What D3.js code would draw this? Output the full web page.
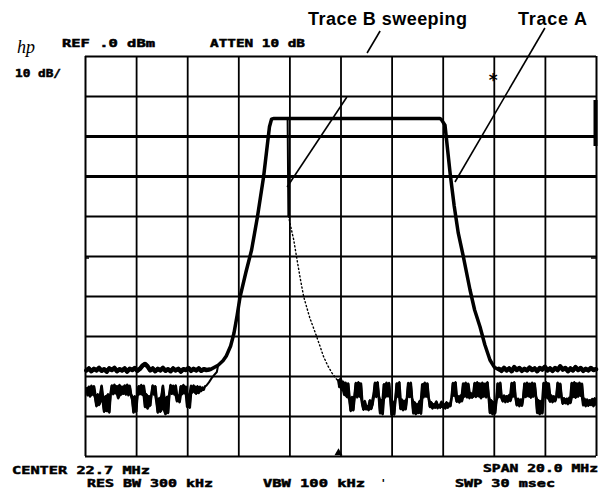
<!DOCTYPE html>
<html><head><meta charset="utf-8">
<script src="https://cdn.jsdelivr.net/npm/d3@7"></script>
<style>html,body{margin:0;padding:0;background:#fff;} svg{display:block;}</style>
</head><body>
<svg id="c" width="616" height="492"></svg>
<script>
// ---- grid / axis definitions (MHz, dBm) ----
const freqGrid = [12.7,14.7,16.7,18.7,20.7,22.7,24.7,26.7,28.7,30.7,32.7];
const dbGrid = [0,-10,-20,-30,-40,-50,-60,-70,-80,-90,-100];

// ---- Trace A (held trace) ----
const aNoiseLStart = 12.75, aNoiseStep = 0.1;
const aNoiseL = [-78.6,-78.1,-78.8,-78.2,-78.6,-78.0,-78.7,-78.3,-78.9,-78.1,
  -78.5,-78.0,-78.8,-78.3,-78.6,-78.1,-78.9,-78.2,-78.5,-78.0,
  -78.7,-78.2,-77.4,-77.0,-77.6,-78.6,-78.1,-78.8,-78.2,-78.6,
  -78.0,-78.7,-78.3,-78.8,-78.1,-78.6,-78.2,-78.9,-78.3,-78.5,
  -78.0,-78.7,-78.2,-78.6,-78.1,-78.7,-78.3,-78.5,-78.4];
const aSkirtFreq = [17.6,17.91,18.1,18.23,18.4,18.53,18.65,18.77,19.0,19.22,19.45,19.69,19.92,20.0,20.1,
  26.59,26.65,26.79,26.99,27.15,27.31,27.51,27.77,27.95,28.16,28.35,28.55,28.72,28.88];
const aSkirtDb = [-78.4,-77.3,-76.2,-75.0,-72.5,-69.3,-65.0,-60.2,-54.0,-48.5,-40.2,-30.2,-17.7,-15.8,-15.6,
  -15.6,-15.9,-17.3,-29.3,-37.5,-44.3,-50.2,-58.5,-63.5,-67.7,-72.2,-76.0,-77.8,-78.4];
const aNoiseRStart = 28.9;
const aNoiseR = [-78.2,-78.7,-78.0,-78.6,-78.1,-78.8,-77.8,-78.5,-78.0,-78.7,
  -78.2,-78.6,-77.9,-78.5,-78.1,-78.8,-78.0,-78.4,-77.7,-78.6,
  -78.1,-78.7,-78.0,-78.5,-77.6,-78.4,-78.0,-78.8,-78.1,-78.6,
  -77.8,-78.5,-78.0,-78.7,-78.2,-78.6,-78.0,-78.5,-78.3];

// ---- Trace B (sweeping trace) ----
const bNoiseStep = 0.05;
const bNoiseLStart = 12.75;
const bNoiseL = [-83.0,-84.9,-82.6,-85.2,-82.4,-84.7,-82.5,-85.5,-87.6,-84.5,
  -87.3,-84.8,-82.4,-86.5,-89.0,-85.0,-88.8,-84.5,-89.2,-84.6,
  -82.3,-84.6,-82.1,-84.4,-82.5,-85.6,-82.2,-84.8,-82.6,-84.5,
  -82.3,-84.7,-82.1,-84.9,-82.4,-84.5,-86.0,-89.2,-85.0,-89.0,
  -85.0,-82.5,-84.6,-82.2,-84.8,-82.4,-87.8,-84.5,-88.2,-85.0,
  -87.5,-84.6,-82.3,-84.7,-82.5,-86.5,-89.2,-85.5,-89.0,-84.8,
  -82.4,-88.5,-89.6,-85.2,-89.3,-84.6,-82.2,-84.5,-82.4,-84.7,
  -82.3,-86.4,-84.8,-86.6,-82.5,-84.6,-82.2,-84.4,-82.6,-87.8,
  -84.6,-88.0,-82.4,-84.2,-82.3,-84.0,-84.5,-82.5,-84.3,-82.6,
  -83.8,-82.8,-83.5,-82.6];
const bRiseFreq = [17.45,17.55,17.65,17.75,17.86,17.91,18.1,18.23,18.4,18.53,18.65,18.77,19.0,19.22,19.45,19.69,19.92,20.0,20.1,20.63,20.66];
const bRiseDb = [-82.4,-81.6,-80.6,-79.8,-79.0,-77.3,-76.2,-75.0,-72.5,-69.3,-65.0,-60.2,-54.0,-48.5,-40.2,-30.2,-17.7,-15.8,-15.6,-15.6,-40.0];
const bTailFreq = [20.66,20.8,20.87,21.0,21.13,21.26,21.5,21.72,21.9,22.04,22.2,22.37,22.57];
const bTailDb = [-40.0,-44.0,-46.0,-51.0,-55.8,-60.2,-65.5,-69.3,-72.6,-75.2,-77.4,-79.3,-81.0];
const bNoiseRStart = 22.6;
const bNoiseR = [-81.0,-82.8,-80.6,-83.5,-81.4,-84.8,-81.6,-85.3,-81.8,-86.0,
  -88.8,-85.2,-88.6,-85.0,-81.7,-85.4,-81.5,-85.2,-81.8,-87.0,
  -88.5,-86.2,-88.4,-87.5,-88.6,-86.0,-88.3,-87.2,-84.5,-81.6,
  -85.3,-81.5,-85.0,-89.4,-86.0,-89.6,-82.0,-85.4,-81.6,-85.1,
  -81.7,-85.5,-89.8,-86.5,-89.7,-85.8,-81.8,-85.2,-81.5,-88.3,
  -85.8,-88.6,-86.2,-88.4,-85.5,-81.7,-85.3,-81.6,-85.5,-89.4,
  -86.5,-89.6,-87.0,-89.3,-86.2,-89.5,-82.0,-85.4,-81.6,-85.2,
  -81.8,-85.5,-87.8,-86.5,-88.2,-87.0,-88.0,-86.3,-88.1,-87.2,
  -88.0,-86.4,-87.9,-87.0,-88.2,-86.5,-88.0,-86.8,-87.6,-85.3,
  -81.7,-85.0,-81.5,-86.5,-85.0,-86.7,-84.8,-86.4,-81.8,-85.2,
  -81.6,-85.4,-81.9,-85.6,-84.2,-85.5,-85.0,-81.7,-85.3,-81.5,
  -85.1,-81.8,-85.6,-81.6,-85.2,-81.9,-85.4,-81.5,-85.0,-89.3,
  -86.0,-89.6,-86.5,-89.4,-86.2,-81.8,-85.3,-81.6,-85.5,-86.4,
  -84.8,-86.6,-85.0,-86.5,-84.7,-86.3,-81.7,-85.2,-81.5,-85.4,
  -87.4,-85.6,-87.6,-85.8,-87.5,-85.5,-81.8,-85.3,-81.6,-85.1,
  -81.9,-85.5,-81.6,-85.2,-81.8,-85.0,-89.3,-86.0,-89.6,-86.2,
  -89.4,-81.7,-85.3,-81.5,-85.6,-81.8,-86.5,-84.8,-86.6,-85.0,
  -86.4,-85.2,-81.6,-85.4,-81.9,-85.1,-87.0,-85.5,-86.9,-85.6,
  -87.1,-85.4,-86.8,-81.7,-85.3,-81.5,-85.5,-81.8,-85.2,-81.6,
  -85.0,-81.9,-87.4,-85.6,-87.6,-85.8,-87.5,-86.0,-87.3,-85.7,
  -87.6,-85.5,-87.2];

// ---- markers & annotations (data units) ----
const centerMarker = [22.7];
const starMarker = [28.68, -5.6];
const arrowA = [[30.70, 7.0],[27.18,-31.5]];
const arrowB1 = [[24.25, 6.25],[23.74, 0.75]];
const arrowB2 = [[22.95,-10.25],[20.61,-32.75]];

// ---- scales ----
const x = d3.scaleLinear().domain([12.7,32.7]).range([85,596]);
const y = d3.scaleLinear().domain([-100,0]).range([456,56]);
const svg = d3.select('#c');

// grid
const gx = svg.append('g').attr('transform','translate(0,456)')
  .call(d3.axisBottom(x).tickValues(freqGrid).tickSize(-400).tickFormat(''));
gx.select('.domain').remove();
gx.selectAll('line').attr('stroke','#000').attr('stroke-width',(d,i)=> (i===0||i===10)?2:1.8);
const gy = svg.append('g').attr('transform','translate(85,0)')
  .call(d3.axisLeft(y).tickValues(dbGrid).tickSize(-511).tickFormat(''));
gy.select('.domain').remove();
gy.selectAll('line').attr('stroke','#000').attr('stroke-width', d => (d===-20||d===-30)?3:2);

// small edge markers
svg.append('line').attr('x1',x(32.7)-0.5).attr('x2',x(32.7)-0.5).attr('y1',y(-11)).attr('y2',y(-22.5)).attr('stroke','#000').attr('stroke-width',4);
svg.append('line').attr('x1',x(12.7)).attr('x2',x(12.7)+4).attr('y1',y(-50.5)).attr('y2',y(-50.5)).attr('stroke','#000').attr('stroke-width',1.5);
svg.append('line').attr('x1',x(32.7)-5).attr('x2',x(32.7)).attr('y1',y(-50.5)).attr('y2',y(-50.5)).attr('stroke','#000').attr('stroke-width',1.5);

// build point lists
const ptsANL = aNoiseL.map((v,i)=>[aNoiseLStart + i*aNoiseStep, v]);
const ptsANR = aNoiseR.map((v,i)=>[aNoiseRStart + i*aNoiseStep, v]);
const ptsA = [...ptsANL, ...aSkirtFreq.map((f,i)=>[f, aSkirtDb[i]]), ...ptsANR];
const ptsBL = bNoiseL.map((v,i)=>[bNoiseLStart + i*bNoiseStep, v]);
const ptsBRise = bRiseFreq.map((f,i)=>[f, bRiseDb[i]]);
const ptsBTail = bTailFreq.map((f,i)=>[f, bTailDb[i]]);
const ptsBR = bNoiseR.map((v,i)=>[bNoiseRStart + i*bNoiseStep, v]);

// envelope of the dense noise trace (neighbouring samples)
const envelope = vals => vals.map((v,i)=>{
  const w = vals.slice(Math.max(0,i-1), i+2);
  return {hi: d3.max(w), lo: d3.min(w)};
});
const line = d3.line().x(d=>x(d[0])).y(d=>y(d[1]));
const g = svg.append('g').attr('fill','none').attr('stroke','#000').attr('stroke-linejoin','round').attr('stroke-linecap','round');

const bandArea = (start) => d3.area().x((d,i)=>x(start + i*bNoiseStep)).y0(d=>y(d.lo)).y1(d=>y(d.hi));
svg.append('path').attr('d', bandArea(bNoiseLStart)(envelope(bNoiseL))).attr('fill','#000');
svg.append('path').attr('d', bandArea(bNoiseRStart)(envelope(bNoiseR))).attr('fill','#000');

g.append('path').attr('d', line(ptsBL)).attr('stroke-width',2);
g.append('path').attr('d', line([ptsBL[ptsBL.length-1], ...ptsBRise])).attr('stroke-width',2);
g.append('path').attr('d', line(ptsBR)).attr('stroke-width',2);
g.append('path').attr('d', line(ptsBTail)).attr('stroke-width',1.4).attr('stroke-dasharray','1.2,2.6');
g.append('path').attr('d', line(ptsA)).attr('stroke-width',3.5);
g.append('path').attr('d', line(ptsANL)).attr('stroke-width',4.5);
g.append('path').attr('d', line(ptsANR)).attr('stroke-width',4.5);

// markers
svg.append('path').attr('d', d3.symbol(d3.symbolTriangle).size(28)())
  .attr('transform',`translate(${x(centerMarker[0])-2},${y(-100)-3})`).attr('fill','#000');
svg.append('text').attr('x',x(starMarker[0])).attr('y',y(starMarker[1])+8).attr('text-anchor','middle')
  .attr('font-family','DejaVu Sans').attr('font-weight','bold').attr('font-size',17).text('*');

// annotation arrows
[arrowA, arrowB1, arrowB2].forEach(a=>{
  svg.append('line').attr('x1',x(a[0][0])).attr('y1',y(a[0][1])).attr('x2',x(a[1][0])).attr('y2',y(a[1][1]))
    .attr('stroke','#000').attr('stroke-width',1.6);
});

// texts
const mono = (t,xx,yy,len)=> svg.append('text').attr('x',xx).attr('y',yy)
  .attr('font-family','DejaVu Sans Mono').attr('font-weight','bold').attr('font-size',11)
  .attr('stroke','#000').attr('stroke-width',0.5)
  .attr('textLength',len).attr('lengthAdjust','spacingAndGlyphs').text(t);
mono('REF .0 dBm',62,47,93);
mono('ATTEN 10 dB',210,47,95);
mono('10 dB/',15,77,46);
mono('CENTER 22.7 MHz',12,473.5,138);
mono('SPAN 20.0 MHz',483,472,115);
mono('RES BW 300 kHz',87,487,126);
mono('VBW 100 kHz',263,487,102);
mono('SWP 30 msec',455,487,100);
svg.append('text').attr('x',380).attr('y',487).attr('font-family','DejaVu Sans Mono').attr('font-weight','bold').attr('font-size',11).text("'");

svg.append('text').attr('x',17).attr('y',53).attr('font-family','Liberation Serif').attr('font-style','italic')
  .attr('font-size',18).text('hp');

const lab = (t,xx,len)=> svg.append('text').attr('x',xx).attr('y',25)
  .attr('font-family','Liberation Sans').attr('font-weight','bold').attr('font-size',18)
  .attr('textLength',len).attr('lengthAdjust','spacing').text(t);
lab('Trace B sweeping',308,159);
lab('Trace A',518,69);
</script>
</body></html>
